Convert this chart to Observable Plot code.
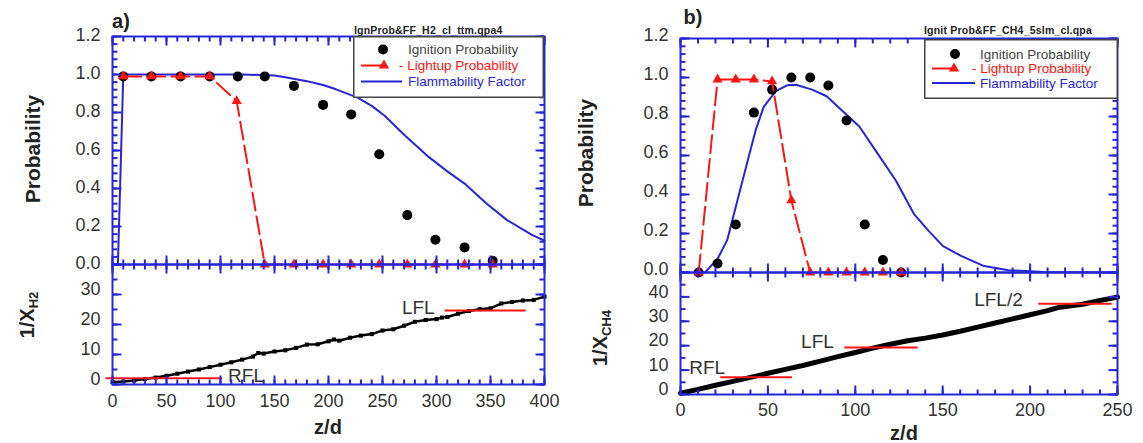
<!DOCTYPE html>
<html><head><meta charset="utf-8">
<script src="https://cdn.jsdelivr.net/npm/d3@7"></script>
<script src="https://cdn.jsdelivr.net/npm/@observablehq/plot@0.6"></script>
<style>
body{margin:0;background:#fff;}
#root{position:relative;width:1143px;height:443px;overflow:hidden;font-family:"Liberation Sans",Arial,Helvetica,sans-serif;color:#333;}
.abs{position:absolute;white-space:nowrap;line-height:1;}
.lab{font-weight:bold;font-size:20px;color:#222;}
.ttl{font-weight:bold;font-size:10.5px;color:#222;letter-spacing:0.2px;}
sub{font-size:13px;vertical-align:-4px;}
</style></head><body><div id="root"></div>
<script>
// ---------------- DATA ----------------
// Panel a (H2)
const aIgnZ = [10, 36, 63, 90, 116, 141, 168, 195, 221, 247, 273, 299, 326, 352];
const aIgnP = [0.99, 0.99, 0.99, 0.99, 0.99, 0.99, 0.94, 0.84, 0.79, 0.58, 0.26, 0.13, 0.09, 0.02];
const aLitZ = [10, 36, 63, 90, 115, 141, 168, 195, 221, 247, 273, 299, 326, 352];
const aLitP = [0.99, 0.99, 0.99, 0.99, 0.86, 0, 0, 0, 0, 0, 0, 0, 0, 0];
const aFfZ = [5, 10, 40, 80, 120, 150, 160, 170, 180, 195, 207, 227, 240, 252, 271, 293, 310, 326, 346, 365, 388, 400];
const aFfP = [0, 1.0, 1.0, 1.0, 1.0, 0.995, 0.985, 0.975, 0.965, 0.945, 0.922, 0.878, 0.835, 0.783, 0.678, 0.565, 0.49, 0.426, 0.322, 0.235, 0.157, 0.125];
const aInvZ = [0, 10, 20, 30, 40, 50, 60, 70, 80, 90, 100, 110, 120, 130, 135, 140, 150, 160, 170, 180, 190, 200, 205, 210, 220, 230, 240, 250, 260, 270, 280, 290, 300, 305, 310, 320, 330, 340, 350, 360, 370, 380, 390, 400];
const aInvV = [0.8, 1.0, 1.3, 1.8, 2.3, 2.9, 3.6, 4.3, 5.0, 5.8, 6.6, 7.4, 8.3, 9.3, 10.5, 10.3, 11.0, 11.4, 12.2, 13.3, 13.4, 14.4, 15.0, 14.6, 15.6, 16.3, 16.8, 18.0, 18.4, 19.6, 20.9, 21.5, 21.8, 22.3, 22.5, 23.6, 24.5, 25.1, 25.4, 27.0, 27.5, 28.0, 28.2, 29.3];
const aLimName = ["RFL", "LFL"];
const aLimVal = [2.1, 24.7];
const aLimFrom = [-6, 308];
const aLimTo = [102, 383];

// Panel b (CH4)
const bIgnZ = [10.4, 21.2, 31.6, 42, 52.4, 63.4, 74.2, 84.6, 95, 105.4, 115.8, 126.2];
const bIgnP = [0, 0.046, 0.246, 0.82, 0.938, 1.0, 1.0, 0.959, 0.78, 0.246, 0.064, 0];
const bLitZ = [10.4, 21.2, 31.6, 42, 52.4, 63.4, 74.2, 84.6, 95, 105.4, 115.8, 126.2];
const bLitP = [0, 0.99, 0.99, 0.99, 0.98, 0.37, 0, 0, 0, 0, 0, 0];
const bFfZ = [10.4, 14, 21.2, 26.7, 32, 38.5, 43, 47.6, 54.5, 61, 66, 75.3, 83.6, 91.9, 102.3, 112.7, 123.1, 133.5, 141.8, 150.2, 160.5, 173, 187.6, 208, 250];
const bFfP = [0, 0, 0.07, 0.166, 0.35, 0.576, 0.73, 0.849, 0.93, 0.96, 0.963, 0.938, 0.904, 0.835, 0.749, 0.611, 0.473, 0.301, 0.215, 0.135, 0.085, 0.035, 0.012, 0.003, 0];
const bInvZ = [0, 10, 20, 30, 40, 50, 60, 70, 80, 90, 100, 110, 120, 130, 140, 150, 160, 170, 180, 190, 200, 210, 217, 230, 240, 250];
const bInvV = [0.5, 2.1, 3.8, 5.4, 7.0, 8.7, 10.3, 11.9, 13.7, 15.5, 17.2, 19.0, 20.6, 22.0, 23.1, 24.4, 25.9, 27.6, 29.3, 31.0, 32.7, 34.4, 35.8, 37.0, 38.5, 39.9];
const bLimName = ["RFL", "LFL", "LFL/2"];
const bLimVal = [7.1, 19.3, 37.2];
const bLimFrom = [23, 94, 205];
const bLimTo = [64, 136, 247];

// Tick labels
const probTicks = [0, 0.2, 0.4, 0.6, 0.8, 1.0, 1.2];
const aZTicks = [0, 50, 100, 150, 200, 250, 300, 350, 400];
const bZTicks = [0, 50, 100, 150, 200, 250];
const aInvTicks = [0, 10, 20, 30];
const bInvTicks = [0, 10, 20, 30, 40];

// ---------------- STYLE / LAYOUT ----------------
const BLUE = "#2626d8", RED = "#ff1414", INK = "#333";
const FONT = "'Liberation Sans', Arial, Helvetica, sans-serif";
const root = document.getElementById("root");
const zip = (zs, vs) => zs.map((z, i) => ({z, v: vs[i]}));
const lim = (n, v, f, t) => n.map((name, i) => ({name, v: v[i], from: f[i], to: t[i]}));

function rng(a, b, s) { const o = []; for (let k = 0; a + k * s <= b + 1e-9; k++) o.push(+(a + k * s).toFixed(6)); return o; }

// inward ticks on all four frame edges (Plot link marks); ux/uy = data units per pixel
function edgeTicks(xDom, yDom, ux, uy, xMaj, xMin, yMaj, yMin) {
  const [x0, x1] = xDom, [y0, y1] = yDom;
  const st = {stroke: BLUE, strokeWidth: 2};
  const tx = (vals, len) => Plot.link(vals.flatMap(v => [
      {xa: v, xb: v, ya: y0, yb: y0 + len * uy},
      {xa: v, xb: v, ya: y1 - len * uy, yb: y1}
    ]), {x1: "xa", x2: "xb", y1: "ya", y2: "yb", ...st});
  const ty = (vals, len) => Plot.link(vals.flatMap(v => [
      {xa: x0, xb: x0 + len * ux, ya: v, yb: v},
      {xa: x1 - len * ux, xb: x1, ya: v, yb: v}
    ]), {x1: "xa", x2: "xb", y1: "ya", y2: "yb", ...st});
  return [tx(rng(x0, x1, xMin), 5), tx(rng(x0, x1, xMaj), 9), ty(rng(y0, y1, yMin), 5), ty(rng(y0, y1, yMaj), 9)];
}

function panel({left, top, width, height, mt, mb, ml, mr, xDom, yDom, xAxis = true, ticks, marks}) {
  const ux = (xDom[1] - xDom[0]) / (width - ml - mr);
  const uy = (yDom[1] - yDom[0]) / (height - mt - mb);
  const svg = Plot.plot({
    width, height, marginTop: mt, marginBottom: mb, marginLeft: ml, marginRight: mr,
    x: xAxis ? {domain: xDom} : {domain: xDom, axis: null},
    y: {domain: yDom},
    style: {background: "transparent", fontFamily: FONT, fontSize: "18px", color: INK, overflow: "visible"},
    marks: [...marks, ...edgeTicks(xDom, yDom, ux, uy, ...ticks)]
  });
  svg.style.position = "absolute";
  svg.style.left = left + "px";
  svg.style.top = top + "px";
  svg.style.maxWidth = "none";
  root.appendChild(svg);
}

function topMarks(ign, lit, ff, dy) {
  return [
    Plot.axisY(probTicks, {tickSize: 0, tickPadding: 12, tickFormat: d => d.toFixed(1), dy, label: null}),
    Plot.line(ff, {x: "z", y: "v", stroke: BLUE, strokeWidth: 2}),
    Plot.dot(ign, {x: "z", y: "v", r: 5, fill: "#000"}),
    Plot.line(lit, {x: "z", y: "v", stroke: RED, strokeWidth: 2, strokeDasharray: "18,6"}),
    Plot.dot(lit, {x: "z", y: "v", symbol: "triangle", r: 3.8, fill: RED}),
    Plot.frame({stroke: BLUE, strokeWidth: 2})
  ];
}

// ---------------- PANEL A ----------------
panel({left: 0, top: 0, width: 560, height: 270, mt: 36, mb: 6, ml: 112, mr: 16,
  xDom: [0, 400], yDom: [0, 1.2], xAxis: false, ticks: [50, 10, 0.2, 0.04],
  marks: topMarks(zip(aIgnZ, aIgnP), zip(aLitZ, aLitP), zip(aFfZ, aFfP), -1)});

const aInv = zip(aInvZ, aInvV);
const aLim = lim(aLimName, aLimVal, aLimFrom, aLimTo);
const aLabZ = [107, 268], aLabY = [2.7, 25.6];
panel({left: 0, top: 264, width: 560, height: 179, mt: 0, mb: 59, ml: 112, mr: 16,
  xDom: [0, 400], yDom: [0, 40], ticks: [50, 10, 10, 5],
  marks: [
    Plot.axisY(aInvTicks, {tickSize: 0, tickPadding: 12, dy: -5, label: null}),
    Plot.axisX(aZTicks, {tickSize: 0, tickPadding: 10, label: null}),
    Plot.line(aInv, {x: "z", y: "v", stroke: "#000", strokeWidth: 2.5}),
    Plot.dot(aInv, {x: "z", y: "v", symbol: "square", r: 2.3, fill: "#000"}),
    Plot.ruleY(aLim, {y: "v", x1: "from", x2: "to", stroke: RED, strokeWidth: 2}),
    Plot.text(aLim, {x: (d, i) => aLabZ[i], y: (d, i) => aLabY[i], text: "name", textAnchor: "start", fontSize: 19, fill: INK}),
    Plot.frame({stroke: BLUE, strokeWidth: 2})
  ]});

// ---------------- PANEL B ----------------
panel({left: 570, top: 0, width: 560, height: 278, mt: 38, mb: 6, ml: 110, mr: 13,
  xDom: [0, 250], yDom: [0, 1.2], xAxis: false, ticks: [50, 10, 0.2, 0.04],
  marks: topMarks(zip(bIgnZ, bIgnP), zip(bLitZ, bLitP), zip(bFfZ, bFfP), -3)});

const bInv = zip(bInvZ, bInvV);
const bLim = lim(bLimName, bLimVal, bLimFrom, bLimTo);
const bLabZ = [5, 69, 168], bLabY = [10.9, 21.4, 38.8];
panel({left: 570, top: 272, width: 560, height: 171, mt: 0, mb: 49, ml: 110, mr: 13,
  xDom: [0, 250], yDom: [0, 50], ticks: [50, 10, 10, 5],
  marks: [
    Plot.axisY(bInvTicks, {tickSize: 0, tickPadding: 12, dy: -5, label: null}),
    Plot.axisX(bZTicks, {tickSize: 0, tickPadding: 9, label: null}),
    Plot.line(bInv, {x: "z", y: "v", stroke: "#000", strokeWidth: 5}),
    Plot.ruleY(bLim, {y: "v", x1: "from", x2: "to", stroke: RED, strokeWidth: 2}),
    Plot.text(bLim, {x: (d, i) => bLabZ[i], y: (d, i) => bLabY[i], text: "name", textAnchor: "start", fontSize: 19, fill: INK}),
    Plot.frame({stroke: BLUE, strokeWidth: 2})
  ]});

// ---------------- TEXT OVERLAYS ----------------
function addText(html, x, y, cls, rot = 0, anchor = "center") {
  const d = document.createElement("div");
  d.className = "abs " + cls;
  d.innerHTML = html;
  d.style.left = x + "px";
  d.style.top = y + "px";
  const tx = anchor === "center" ? "-50%" : "0";
  d.style.transform = `translate(${tx},-50%)` + (rot ? ` rotate(${rot}deg)` : "");
  root.appendChild(d);
  return d;
}
addText("a)", 121, 21, "lab");
addText("b)", 693, 17, "lab");
addText("Probability", 32, 149, "lab", -90).style.fontSize = "21px";
addText("Probability", 585, 153, "lab", -90).style.fontSize = "21px";
addText("1/X<sub>H2</sub>", 28, 315, "lab", -90);
addText("1/X<sub>CH4</sub>", 601, 338, "lab", -90);
addText("z/d", 328, 427, "lab");
addText("z/d", 904, 433, "lab");
addText("IgnProb&amp;FF_H2_cl_ttm.qpa4", 354, 30, "ttl", 0, "start");
addText("Ignit Prob&amp;FF_CH4_5slm_cl.qpa", 924, 30, "ttl", 0, "start");

// ---------------- LEGENDS ----------------
function legend(c) {
  const svg = d3.create("svg").attr("width", c.w).attr("height", c.h)
    .style("position", "absolute").style("left", c.x + "px").style("top", c.y + "px")
    .style("font-family", FONT).style("font-size", "13.5px");
  svg.append("rect").attr("x", 0.75).attr("y", 0.75).attr("width", c.w - 1.5).attr("height", c.h - 1.5)
    .attr("fill", "#fff").attr("stroke", "#444").attr("stroke-width", 1.5);
  svg.append("circle").attr("cx", c.dotX).attr("cy", c.r1).attr("r", 5).attr("fill", "#000");
  svg.append("line").attr("x1", 8).attr("x2", c.redX2).attr("y1", c.r2).attr("y2", c.r2).attr("stroke", RED).attr("stroke-width", 2);
  svg.append("path").attr("d", d3.symbol(d3.symbolTriangle, 45)()).attr("transform", `translate(${c.triX},${c.r2})`).attr("fill", RED);
  svg.append("line").attr("x1", 8).attr("x2", c.blueX2).attr("y1", c.r3).attr("y2", c.r3).attr("stroke", BLUE).attr("stroke-width", 2);
  svg.append("text").attr("x", c.tx).attr("y", c.r1).attr("dy", "0.35em").attr("fill", "#444").text("Ignition Probability");
  svg.append("text").attr("x", c.dashX).attr("y", c.r2).attr("dy", "0.35em").attr("fill", RED).text("- Lightup Probability");
  svg.append("text").attr("x", c.tx).attr("y", c.r3).attr("dy", "0.35em").attr("fill", BLUE).text("Flammability Factor");
  root.appendChild(svg.node());
}
legend({x: 353, y: 36, w: 191, h: 62, dotX: 30, r1: 13.5, r2: 29.5, r3: 45.5, redX2: 34, triX: 31, blueX2: 49, tx: 55, dashX: 46});
legend({x: 924, y: 39, w: 194, h: 60, dotX: 31, r1: 15, r2: 29.5, r3: 44, redX2: 33, triX: 30, blueX2: 51, tx: 56, dashX: 48});
</script></body></html>
